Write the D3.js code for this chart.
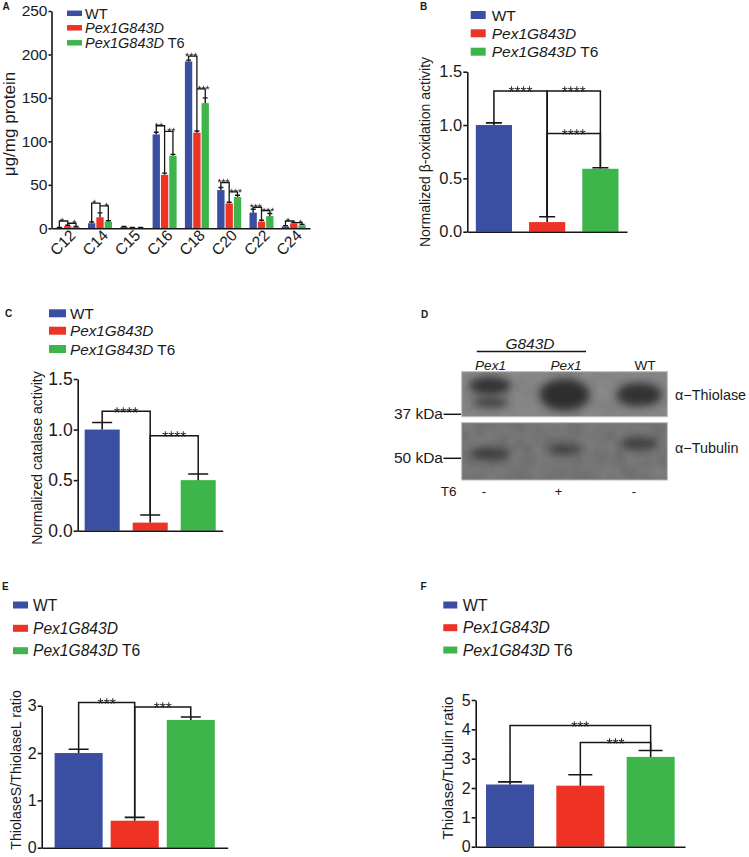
<!DOCTYPE html>
<html><head><meta charset="utf-8">
<script src="https://cdn.jsdelivr.net/npm/d3@7"></script>
<style>
body{margin:0;background:#fff}
svg{display:block}
text{font-family:"Liberation Sans",Arial,Helvetica,sans-serif;fill:#1a1a1a}
.star{opacity:0.99;text-rendering:geometricPrecision}
</style>
</head><body>
<svg id="fig" width="749" height="857"></svg>
<script>
// ---------------- DATA ----------------
const groups = ["WT", "Pex1G843D", "Pex1G843D T6"];
const groupColors = ["#3a4fa1", "#ee3224", "#3eb54a"];

// Panel A: fatty acid levels (µg/mg protein)
const fattyAcids = ["C12", "C14", "C15", "C16", "C18", "C20", "C22", "C24"];
const aWT    = [0.6, 5.8, 1.5, 108, 192, 44, 18, 2.3];
const aWTErr = [0.5, 1.5, 0.5, 2.5, 1.5, 3, 4, 0.8];
const aMut    = [2.5, 12.7, 0.8, 61.5, 110, 28.5, 7.7, 5.8];
const aMutErr = [1.0, 5.0, 0.3, 2.0, 2.0, 1.5, 1.5, 1.0];
const aT6    = [1.5, 7.6, 0.8, 83.5, 144, 36, 14, 3.5];
const aT6Err = [0.6, 1.0, 0.3, 1.5, 6.0, 2.0, 3.0, 1.0];
const aSig1 = ["*", "*", null, "**", "***", "***", "***", "*"];   // WT vs Pex1G843D
const aSig2 = ["*", "*", null, "**", "***", "***", "***", "*"];   // Pex1G843D vs T6
const aLevel1 = [8.4, 29, null, 118, 198, 52.7, 24.2, 8.4];
const aLevel2 = [5.8, 25.7, null, 111.5, 160.5, 42, 20.3, 6.5];
const aTicks = [0, 50, 100, 150, 200, 250];

// Panel B: normalized beta-oxidation
const bValues = [1.00, 0.09, 0.59];
const bErrs   = [0.02, 0.05, 0.01];
const bTicks  = [0, 0.5, 1.0, 1.5];
const bBrackets = [[0, 1, 1.32, "****"], [1, 2, 1.32, "****"], [1, 2, 0.92, "****"]];

// Panel C: normalized catalase activity
const cValues = [1.00, 0.08, 0.50];
const cErrs   = [0.07, 0.075, 0.06];
const cTicks  = [0, 0.5, 1.0, 1.5];
const cBrackets = [[0, 1, 1.18, "****"], [1, 2, 0.94, "****"]];

// Panel D: western blot
const blotLanes = ["Pex1", "Pex1", "WT"];
const blotT6 = ["-", "+", "-"];
// [lane, yCenter(px in blot), rx, ry, darkness]
const thiolaseBands = [[0, 14, 21, 9, 0.9], [0, 31, 19, 5, 0.8], [1, 23, 25, 16, 0.95], [2, 23, 23, 12, 0.9]];
const tubulinBands  = [[0, 31, 20, 6, 0.8], [1, 27, 17, 5, 0.75], [2, 21, 19, 6, 0.75]];

// Panel E: ThiolaseS / ThiolaseL ratio
const eValues = [2.00, 0.57, 2.70];
const eErrs   = [0.08, 0.07, 0.06];
const eTicks  = [0, 1, 2, 3];
const eBrackets = [[0, 1, 3.07, "***"], [1, 2, 2.97, "***"]];

// Panel F: Thiolase / Tubulin ratio
const fValues = [2.12, 2.08, 3.06];
const fErrs   = [0.09, 0.37, 0.22];
const fTicks  = [0, 1, 2, 3, 4, 5];
const fBrackets = [[0, 2, 4.13, "***"], [1, 2, 3.55, "***"]];

// ---------------- DRAWING ----------------
const svg = d3.select("#fig");
svg.append("rect").attr("width", 749).attr("height", 857).attr("fill", "#fff");
const INK = "#161616";

function panelLabel(t, x, y) {
  svg.append("text").attr("x", x).attr("y", y).attr("font-size", 10).attr("font-weight", "bold").text(t);
}

function legend(x, ys, w, h, fs, tx) {
  groups.forEach((name, i) => {
    svg.append("rect").attr("x", x).attr("y", ys[i] - h / 2).attr("width", w).attr("height", h).attr("fill", groupColors[i]);
    const t = svg.append("text").attr("x", tx).attr("y", ys[i] + fs * 0.36).attr("font-size", fs);
    if (name === "WT") t.text("WT");
    else {
      t.append("tspan").attr("font-style", "italic").text("Pex1G843D");
      if (name.endsWith("T6")) t.append("tspan").text(" T6");
    }
  });
}

function styleAxis(g, fs) {
  g.selectAll("path.domain").attr("stroke", INK).attr("stroke-width", 1.6);
  g.selectAll(".tick line").attr("stroke", INK).attr("stroke-width", 1.6);
  g.selectAll(".tick text").attr("font-size", fs).attr("fill", INK);
}

function yTitle(txt, x, y, fs) {
  svg.append("text").attr("transform", `translate(${x},${y}) rotate(-90)`)
    .attr("text-anchor", "middle").attr("font-size", fs).attr("fill", "#222").text(txt);
}

function barPanel(o) {
  const y = d3.scaleLinear().domain([0, o.max]).range([o.y0, o.y1]);
  const x = d3.scaleBand().domain(groups).range([o.xa, o.xb]).paddingInner(o.pi).paddingOuter(o.po);
  const g = svg.append("g");
  const cx = i => x(groups[i]) + x.bandwidth() / 2;
  const top = i => o.values[i] + o.errs[i];
  o.brackets.forEach(([a, c, lvl, lab]) => {
    g.append("path").attr("d", `M${cx(a)},${y(top(a))}V${y(lvl)}H${cx(c)}V${y(top(c))}`)
      .attr("fill", "none").attr("stroke", INK).attr("stroke-width", 1.5);
    g.append("text").attr("class", "star").attr("x", (cx(a) + cx(c)) / 2).attr("y", y(lvl) + o.starFs * 0.4)
      .attr("text-anchor", "middle").attr("font-size", o.starFs).attr("fill", "#2a2a2a").text(lab);
  });
  g.selectAll("rect.bar").data(o.values).join("rect").attr("class", "bar")
    .attr("x", (d, i) => x(groups[i])).attr("y", d => y(d))
    .attr("width", x.bandwidth()).attr("height", d => y(0) - y(d))
    .attr("fill", (d, i) => groupColors[i]);
  g.selectAll("path.err").data(o.values).join("path").attr("class", "err")
    .attr("d", (d, i) => `M${cx(i)},${y(d)}V${y(top(i))}M${cx(i) - o.cap / 2},${y(top(i))}h${o.cap}`)
    .attr("stroke", INK).attr("stroke-width", 1.6).attr("fill", "none");
  const ya = g.append("g").attr("transform", `translate(${o.xa},0)`)
    .call(d3.axisLeft(y).tickValues(o.ticks).tickFormat(o.fmt).tickSize(4).tickSizeOuter(0).tickPadding(1));
  styleAxis(ya, o.tickFs);
  const xa = g.append("g").attr("transform", `translate(0,${o.y0})`)
    .call(d3.axisBottom(x).tickSize(0).tickSizeOuter(0).tickFormat(""));
  styleAxis(xa, o.tickFs);
}

// ---------- Panel A ----------
panelLabel("A", 2.5, 10);
{
  const y = d3.scaleLinear().domain([0, 250]).range([228.3, 11]);
  const x0 = d3.scaleBand().domain(fattyAcids).range([51.5, 310]).paddingInner(0.257).paddingOuter(0.13);
  const x1 = d3.scaleBand().domain(groups).range([0, x0.bandwidth()]).paddingInner(0.12);
  const series = [[aWT, aWTErr], [aMut, aMutErr], [aT6, aT6Err]];
  const g = svg.append("g");
  const cx = (c, s) => x0(fattyAcids[c]) + x1(groups[s]) + x1.bandwidth() / 2;
  const top = (c, s) => series[s][0][c] + series[s][1][c];
  fattyAcids.forEach((f, c) => {
    if (!aSig1[c]) return;
    g.append("path").attr("d",
      `M${cx(c, 0)},${y(top(c, 0))}V${y(aLevel1[c])}H${cx(c, 1)}V${y(top(c, 1))}` +
      `M${cx(c, 1)},${y(aLevel2[c])}H${cx(c, 2)}V${y(top(c, 2))}`)
      .attr("fill", "none").attr("stroke", INK).attr("stroke-width", 1.3);
    g.append("text").attr("class", "star").attr("x", (cx(c, 0) + cx(c, 1)) / 2 - 1.5).attr("y", y(aLevel1[c]) + 4)
      .attr("text-anchor", "middle").attr("font-size", 10.5).attr("fill", "#333").text(aSig1[c]);
    g.append("text").attr("class", "star").attr("x", (cx(c, 1) + cx(c, 2)) / 2 + 2.5).attr("y", y(aLevel2[c]) + 4)
      .attr("text-anchor", "middle").attr("font-size", 10.5).attr("fill", "#333").text(aSig2[c]);
  });
  series.forEach(([vals, errs], s) => {
    g.selectAll(null).data(vals).join("rect")
      .attr("x", (d, c) => x0(fattyAcids[c]) + x1(groups[s])).attr("y", d => y(d))
      .attr("width", x1.bandwidth()).attr("height", d => y(0) - y(d)).attr("fill", groupColors[s]);
    g.selectAll(null).data(vals).join("path")
      .attr("d", (d, c) => `M${cx(c, s)},${y(d)}V${y(d + errs[c])}M${cx(c, s) - 2.5},${y(d + errs[c])}h5`)
      .attr("stroke", INK).attr("stroke-width", 1.4).attr("fill", "none");
  });
  const ya = g.append("g").attr("transform", "translate(51.5,0)")
    .call(d3.axisLeft(y).tickValues(aTicks).tickSize(3).tickSizeOuter(0).tickPadding(1));
  styleAxis(ya, 15.5);
  const xa = g.append("g").attr("transform", "translate(0,228.3)")
    .call(d3.axisBottom(x0).tickSize(0).tickSizeOuter(0));
  styleAxis(xa, 15.5);
  xa.selectAll(".tick text").attr("text-anchor", "end").attr("dy", null).attr("y", 0)
    .attr("transform", "translate(9,8) rotate(-45)");
  yTitle("μg/mg protein", 15, 124, 17);
  legend(67, [13.3, 27.8, 42.8], 15, 5.5, 14.5, 85);
}

// ---------- Panel B ----------
panelLabel("B", 420, 10);
legend(470.7, [15, 33.3, 51.7], 15, 8, 15.5, 491.7);
barPanel({ values: bValues, errs: bErrs, ticks: bTicks, fmt: d3.format(".1f"), brackets: bBrackets,
  max: 1.5, y0: 231.7, y1: 71.7, xa: 467.3, xb: 627, pi: 0.32, po: 0.16, cap: 16, tickFs: 16.5, starFs: 15.5 });
yTitle("Normalized β-oxidation activity", 430, 152, 14);

// ---------- Panel C ----------
panelLabel("C", 5, 317);
legend(49, [313.3, 330.7, 349], 17, 8, 15.3, 70);
barPanel({ values: cValues, errs: cErrs, ticks: cTicks, fmt: d3.format(".1f"), brackets: cBrackets,
  max: 1.5, y0: 530.7, y1: 379, xa: 77.7, xb: 222.7, pi: 0.27, po: 0.145, cap: 20, tickFs: 17.5, starFs: 15.5 });
yTitle("Normalized catalase activity", 42, 458, 14);

// ---------- Panel D (western blot) ----------
panelLabel("D", 421, 318);
{
  const defs = svg.append("defs");
  defs.append("filter").attr("id", "blur").attr("x", "-60%").attr("y", "-80%").attr("width", "220%").attr("height", "260%")
    .append("feGaussianBlur").attr("stdDeviation", 4);
  const tex = defs.append("filter").attr("id", "grain");
  tex.append("feTurbulence").attr("type", "fractalNoise").attr("baseFrequency", 0.06).attr("numOctaves", 2).attr("seed", 5).attr("result", "n");
  tex.append("feColorMatrix").attr("in", "n").attr("type", "matrix")
    .attr("values", "0 0 0 0 0.45  0 0 0 0 0.45  0 0 0 0 0.45  0 0 0 0.22 0").attr("result", "m");
  tex.append("feComposite").attr("in", "m").attr("in2", "SourceGraphic").attr("operator", "in").attr("result", "c");
  tex.append("feMerge").call(m => { m.append("feMergeNode").attr("in", "SourceGraphic"); m.append("feMergeNode").attr("in", "c"); });

  const bx0 = 461.7, bx1 = 667.3;
  const lane = d3.scalePoint().domain(d3.range(blotLanes.length)).range([490, 639]);
  const blots = [
    { y: 371.7, h: 45, fill: "#7f7f7f", bands: thiolaseBands, label: "α−Thiolase", ly: 400, kda: "37 kDa", ky: 414.3 },
    { y: 422.7, h: 57.3, fill: "#6a6a6a", bands: tubulinBands, label: "α−Tubulin", ly: 453, kda: "50 kDa", ky: 458.3 }
  ];
  blots.forEach(b => {
    svg.append("rect").attr("x", bx0).attr("y", b.y).attr("width", bx1 - bx0).attr("height", b.h)
      .attr("fill", b.fill).attr("stroke", "#bdbdbd").attr("stroke-width", 1).attr("filter", "url(#grain)");
    const clipId = "clip" + Math.round(b.y);
    defs.append("clipPath").attr("id", clipId).append("rect").attr("x", bx0).attr("y", b.y).attr("width", bx1 - bx0).attr("height", b.h);
    svg.append("g").attr("clip-path", `url(#${clipId})`).selectAll("ellipse").data(b.bands).join("ellipse")
      .attr("cx", d => lane(d[0])).attr("cy", d => b.y + d[1]).attr("rx", d => d[2]).attr("ry", d => d[3])
      .attr("fill", "#2b2b2b").attr("opacity", d => d[4]).attr("filter", "url(#blur)");
    svg.append("text").attr("x", 675).attr("y", b.ly).attr("font-size", 14.4).attr("fill", "#333").text(b.label);
    svg.append("text").attr("x", 443).attr("y", b.ky + 4.5).attr("text-anchor", "end").attr("font-size", 15.5).attr("fill", "#222").text(b.kda);
    svg.append("line").attr("x1", 443.5).attr("x2", 461).attr("y1", b.ky).attr("y2", b.ky).attr("stroke", INK).attr("stroke-width", 1.5);
  });
  svg.append("text").attr("x", 530).attr("y", 348.5).attr("text-anchor", "middle").attr("font-size", 15.5)
    .attr("font-style", "italic").attr("fill", "#222").text("G843D");
  svg.append("line").attr("x1", 476.7).attr("x2", 586).attr("y1", 351.5).attr("y2", 351.5).attr("stroke", INK).attr("stroke-width", 1.4);
  const laneTextX = [490.5, 566, 645];
  blotLanes.forEach((l, i) => {
    svg.append("text").attr("x", laneTextX[i]).attr("y", 370).attr("text-anchor", "middle").attr("font-size", 13.6)
      .attr("font-style", l === "WT" ? "normal" : "italic").attr("fill", "#222").text(l);
  });
  svg.append("text").attr("x", 456.5).attr("y", 496).attr("text-anchor", "end").attr("font-size", 13.5).attr("fill", "#222").text("T6");
  const signX = [484, 558.5, 634];
  blotT6.forEach((s, i) => {
    svg.append("text").attr("x", signX[i]).attr("y", 496).attr("text-anchor", "middle").attr("font-size", 13).attr("fill", "#222").text(s);
  });
}

// ---------- Panel E ----------
panelLabel("E", 2, 590);
legend(13, [605, 628.3, 650.7], 15, 7, 15.6, 33);
barPanel({ values: eValues, errs: eErrs, ticks: eTicks, fmt: d3.format("d"), brackets: eBrackets,
  max: 3, y0: 847.7, y1: 705.7, xa: 41.7, xb: 227.7, pi: 0.143, po: 0.23, cap: 20, tickFs: 16, starFs: 15.5 });
yTitle("ThiolaseS/ThiolaseL ratio", 21, 770, 14.2);

// ---------- Panel F ----------
panelLabel("F", 420.5, 590);
legend(443.3, [605, 627.7, 650], 14, 7, 16, 462.7);
barPanel({ values: fValues, errs: fErrs, ticks: fTicks, fmt: d3.format("d"), brackets: fBrackets,
  max: 5, y0: 846.7, y1: 700, xa: 475.7, xb: 685, pi: 0.317, po: 0.147, cap: 24, tickFs: 16, starFs: 15.5 });
yTitle("Thiolase/Tubulin ratio", 453, 768, 15);
</script>
</body></html>
